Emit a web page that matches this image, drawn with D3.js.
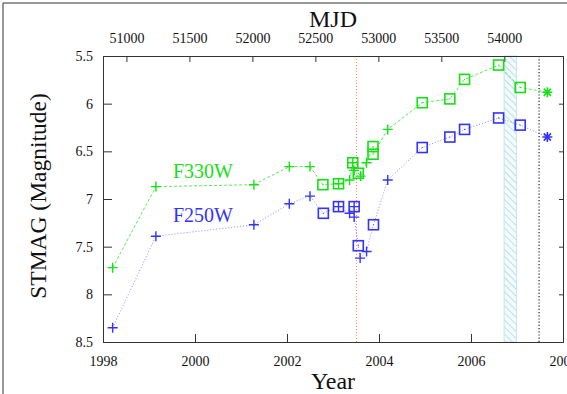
<!DOCTYPE html>
<html>
<head>
<meta charset="utf-8">
<script src="https://cdn.jsdelivr.net/npm/d3@7"></script>
<style>
  body { margin: 0; background: #fff; }
  svg { display: block; font-family: "Liberation Serif", "DejaVu Serif", serif; }
</style>
</head>
<body>
<div id="chart"></div>
<script>
// F330W photometry (year, STMAG, marker)
const f330Year = [1998.21, 1999.15, 2001.28, 2002.05, 2002.50, 2002.78, 2003.12, 2003.36, 2003.43, 2003.46, 2003.55, 2003.60, 2003.73, 2003.87, 2003.87, 2004.19, 2004.94, 2005.54, 2005.86, 2006.60, 2007.07, 2007.66];
const f330Mag  = [7.72, 6.87, 6.85, 6.66, 6.66, 6.85, 6.84, 6.80, 6.62, 6.70, 6.73, 6.76, 6.62, 6.45, 6.53, 6.27, 5.99, 5.95, 5.745, 5.595, 5.83, 5.88];
const f330Mark = ["plus", "plus", "plus", "plus", "plus", "square", "sqplus", "plus", "sqplus", "plus", "square", "plus", "plus", "square", "square", "plus", "square", "square", "square", "square", "square", "star"];

// F250W photometry
const f250Year = [1998.21, 1999.15, 2001.28, 2002.05, 2002.50, 2002.79, 2003.12, 2003.36, 2003.46, 2003.46, 2003.55, 2003.59, 2003.73, 2003.88, 2004.19, 2004.94, 2005.54, 2005.86, 2006.60, 2007.07, 2007.66];
const f250Mag  = [8.35, 7.39, 7.27, 7.05, 6.97, 7.15, 7.08, 7.15, 7.08, 7.19, 7.49, 7.62, 7.55, 7.27, 6.80, 6.46, 6.35, 6.27, 6.15, 6.225, 6.35];
const f250Mark = ["plus", "plus", "plus", "plus", "plus", "square", "sqplus", "plus", "sqplus", "plus", "square", "plus", "plus", "square", "plus", "square", "square", "square", "square", "square", "star"];

// axis ticks
const yearTicks = [1998, 2000, 2002, 2004, 2006, 2008];
const mjdTicks = [51000, 51500, 52000, 52500, 53000, 53500, 54000];
const magTicks = [5.5, 6, 6.5, 7, 7.5, 8, 8.5];

// event markers
const orangeLineYear = 2003.51;
const bandYears = [2006.72, 2006.99];
const blackLineYear = 2007.48;

const width = 567, height = 394;
const margin = {left: 103, right: 4, top: 56, bottom: 52};

const svg = d3.select("#chart").append("svg")
  .attr("width", width).attr("height", height);

// outer frame
svg.append("path")
  .attr("d", `M3,${height + 5} L3,3 L${width + 5},3`)
  .attr("fill", "none").attr("stroke", "#333").attr("stroke-width", 1);

const x = d3.scaleLinear().domain([1998, 2008]).range([margin.left, width - margin.right]);
const xMjd = d3.scaleLinear().domain([50814, 54466]).range([margin.left, width - margin.right]);
const y = d3.scaleLinear().domain([5.5, 8.5]).range([margin.top, height - margin.bottom]);

const axisColor = "#333";

// hatch pattern
const defs = svg.append("defs");
const pat = defs.append("pattern")
  .attr("id", "hatch").attr("patternUnits", "userSpaceOnUse")
  .attr("width", 5).attr("height", 5)
  .attr("patternTransform", "rotate(-45)");
pat.append("rect").attr("width", 5).attr("height", 5).attr("fill", "#f4fbfc");
pat.append("line").attr("x1", 0).attr("y1", 0).attr("x2", 0).attr("y2", 5)
  .attr("stroke", "#a6d8e0").attr("stroke-width", 1.5);

svg.append("rect")
  .attr("x", x(bandYears[0])).attr("y", y(5.5))
  .attr("width", x(bandYears[1]) - x(bandYears[0]))
  .attr("height", y(8.5) - y(5.5))
  .attr("fill", "url(#hatch)")
  .attr("stroke", "#c2e6eb").attr("stroke-width", 1);

svg.append("line")
  .attr("x1", x(orangeLineYear)).attr("x2", x(orangeLineYear))
  .attr("y1", y(5.5)).attr("y2", y(8.5))
  .attr("stroke", "#ff8a5c").attr("stroke-width", 1).attr("stroke-dasharray", "1,2");

svg.append("line")
  .attr("x1", x(blackLineYear)).attr("x2", x(blackLineYear))
  .attr("y1", y(5.5)).attr("y2", y(8.5))
  .attr("stroke", "#222").attr("stroke-width", 1.2).attr("stroke-dasharray", "1.2,2");

// axes
const gBottom = svg.append("g").attr("transform", `translate(0,${y(8.5)})`)
  .call(d3.axisBottom(x).tickValues(yearTicks).tickFormat(d3.format("d")).tickSize(-8).tickPadding(14));
const gTop = svg.append("g").attr("transform", `translate(0,${y(5.5)})`)
  .call(d3.axisTop(xMjd).tickValues(mjdTicks).tickFormat(d3.format("d")).tickSize(-6).tickPadding(13));
const gLeft = svg.append("g").attr("transform", `translate(${x(1998)},0)`)
  .call(d3.axisLeft(y).tickValues(magTicks).tickFormat(d3.format("")).tickSize(-9).tickPadding(10));
const gRight = svg.append("g").attr("transform", `translate(${x(2008)},0)`)
  .call(d3.axisRight(y).tickValues(magTicks).tickFormat("").tickSize(-4));

[gBottom, gTop, gLeft, gRight].forEach(g => {
  g.select(".domain").attr("stroke", axisColor);
  g.selectAll(".tick line").attr("stroke", axisColor);
  g.selectAll("text").attr("fill", "#111")
    .style("font-family", "'Liberation Serif', serif").style("font-size", "14px");
});
// hide end ticks that sit on the frame corners
gBottom.selectAll(".tick").filter(d => d === 1998 || d === 2008).select("line").remove();
gLeft.selectAll(".tick").filter(d => d === 5.5 || d === 8.5).select("line").remove();
gRight.selectAll(".tick").filter(d => d === 5.5 || d === 8.5).select("line").remove();

// titles
svg.append("text").attr("x", 333).attr("y", 27).attr("text-anchor", "middle")
  .style("font-size", "24px").attr("fill", "#111").text("MJD");
svg.append("text").attr("x", 333).attr("y", 389).attr("text-anchor", "middle")
  .style("font-size", "24px").attr("fill", "#111").text("Year");
svg.append("text").attr("transform", "translate(46,196) rotate(-90)").attr("text-anchor", "middle")
  .style("font-size", "23.5px").attr("fill", "#111").text("STMAG (Magnitude)");

// series
function drawSeries(years, mags, marks, color, lineColor, dash) {
  const pts = years.map((d, i) => ({year: d, mag: mags[i], mark: marks[i]}));
  const line = d3.line().x(d => x(d.year)).y(d => y(d.mag));
  svg.append("path").datum(pts)
    .attr("d", line).attr("fill", "none")
    .attr("stroke", lineColor).attr("stroke-width", 1).attr("stroke-dasharray", dash);

  const g = svg.append("g").attr("fill", "none").attr("stroke", color).attr("stroke-width", 1.4);
  pts.forEach(p => {
    const cx = x(p.year), cy = y(p.mag);
    const s = 5;
    if (p.mark === "plus" || p.mark === "sqplus") {
      g.append("path").attr("d", `M${cx - s},${cy}H${cx + s}M${cx},${cy - s}V${cy + s}`);
    }
    if (p.mark === "square" || p.mark === "sqplus") {
      g.append("rect").attr("x", cx - s).attr("y", cy - s).attr("width", 2 * s).attr("height", 2 * s)
        .attr("stroke-width", 1.6);
      g.append("circle").attr("cx", cx).attr("cy", cy).attr("r", 0.6).attr("fill", color).attr("stroke", "none");
    }
    if (p.mark === "star") {
      const d = s * 0.72;
      g.append("path").attr("stroke-width", 1.6)
        .attr("d", `M${cx - s},${cy}H${cx + s}M${cx},${cy - s}V${cy + s}M${cx - d},${cy - d}L${cx + d},${cy + d}M${cx - d},${cy + d}L${cx + d},${cy - d}`);
    }
  });
}

drawSeries(f330Year, f330Mag, f330Mark, "#16e016", "#5ee85e", "3,2");
drawSeries(f250Year, f250Mag, f250Mark, "#3333ff", "#8a8aff", "1,2");

svg.append("text").attr("x", 173).attr("y", 178)
  .style("font-size", "20px").attr("fill", "#16e016").text("F330W");
svg.append("text").attr("x", 173).attr("y", 222)
  .style("font-size", "20px").attr("fill", "#3333ff").text("F250W");
</script>
</body>
</html>
